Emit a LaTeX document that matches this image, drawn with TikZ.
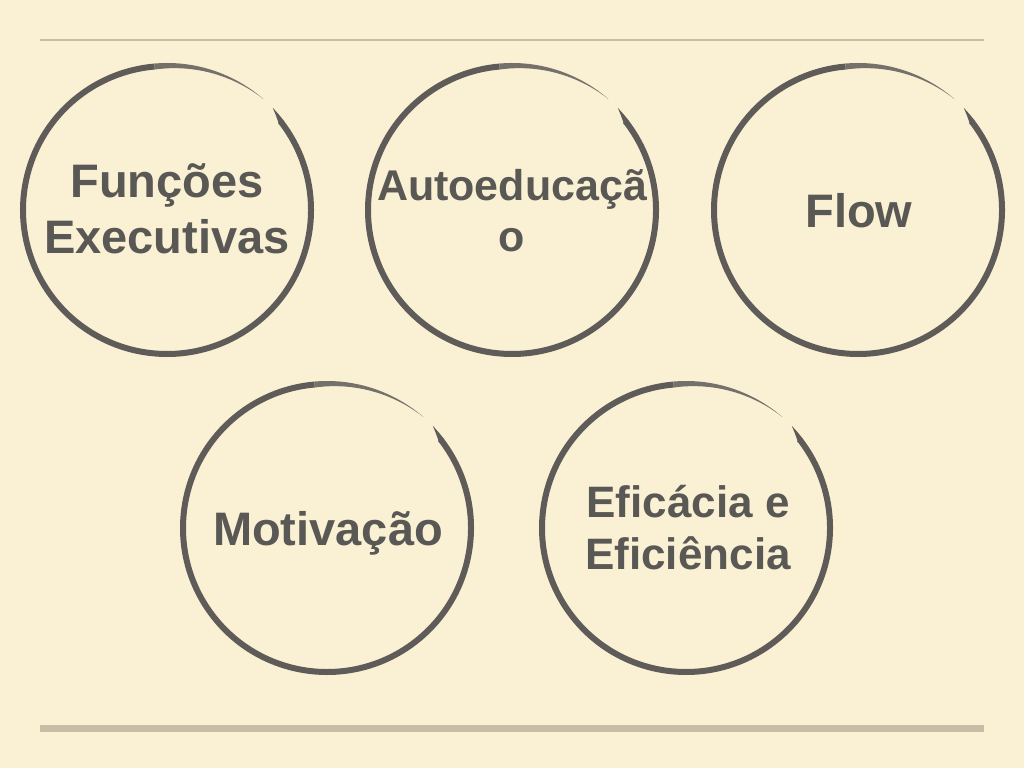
\documentclass[tikz,border=0pt]{standalone}
\usepackage{fontspec}
\setmainfont{Liberation Sans}
\definecolor{bg}{HTML}{FAF1D4}
\definecolor{ink}{HTML}{5E5B58}
\definecolor{txt}{HTML}{5A5855}
\definecolor{rulecol}{HTML}{C6BDA6}
\newcommand\fs[2]{\fontsize{#1}{#2}\selectfont\bfseries}
\newcommand\inkcircle[2]{%
  \draw[ink, line width=6] (#1,#2) ++(38:144) arc[start angle=38, end angle=-265, radius=144];
  \fill[ink, opacity=0.85] plot[domain=95:49, samples=40] ({#1+147*cos(\x)},{#2+147*sin(\x)})
     -- plot[domain=49:95, samples=40] ({#1+(147-6*(\x-49)/46)*cos(\x)},{#2+(147-6*(\x-49)/46)*sin(\x)}) -- cycle;
  \fill[ink] plot[domain=44:37.5, samples=20] ({#1+147*cos(\x)},{#2+147*sin(\x)})
     -- plot[domain=37.5:44, samples=20] ({#1+(141+6*(\x-37.5)/6.5)*cos(\x)},{#2+(141+6*(\x-37.5)/6.5)*sin(\x)}) -- cycle;
}
\tikzset{lbl/.style={text=txt, align=center, anchor=base, inner sep=0pt}}
\begin{document}
\begin{tikzpicture}[x=1pt,y=1pt]
\fill[bg] (0,0) rectangle (1024,768);
\useasboundingbox (0,0) rectangle (1024,768);
\coordinate (tl) at (40,728);
\coordinate (tr) at (984,728);
\coordinate (bl) at (40,40);
\coordinate (br) at (984,40);
\draw[rulecol, line width=2] (tl) -- (tr);
\draw[rulecol, line width=7] (bl) -- (br);
\inkcircle{167}{558}
\inkcircle{512}{558}
\inkcircle{858}{558}
\inkcircle{327}{240}
\inkcircle{686}{240}
\node[lbl, font=\fs{47}{56}] (t1) at (167,514) {Funções\\Executivas};
\node[lbl, font=\fs{43}{51}] (t2) at (512,516) {Autoeducaçã\\o};
\node[lbl, font=\fs{47}{56}] (t3) at (859,540) {Flow};
\node[lbl, font=\fs{47}{56}] (t4) at (328,222) {Motivação};
\node[lbl, font=\fs{44}{52}] (t5) at (688,198) {Eficácia e\\Eficiência};
\end{tikzpicture}
\end{document}
